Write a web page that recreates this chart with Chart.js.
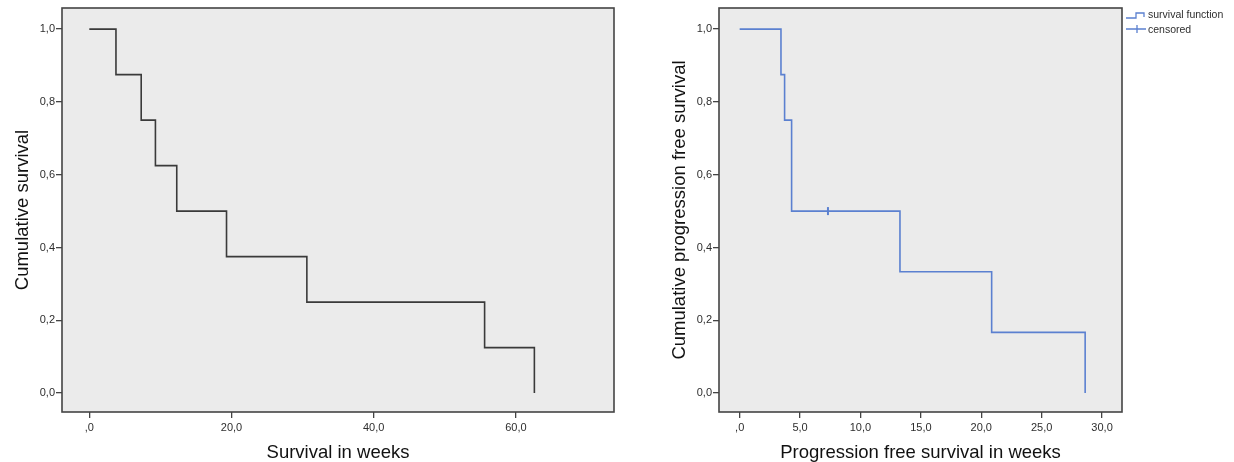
<!DOCTYPE html>
<html>
<head>
<meta charset="utf-8">
<script src="https://cdn.jsdelivr.net/npm/chart.js@4/dist/chart.umd.min.js"></script>
<style>
  body { margin: 0; background: #fff; }
  #wrap { position: relative; width: 1234px; height: 462px; }
  canvas { position: absolute; top: 0; }
  #os { left: 0; }
  #pfs { left: 640px; }
</style>
</head>
<body>
<div id="wrap">
  <canvas id="os" width="640" height="462"></canvas>
  <canvas id="pfs" width="594" height="462"></canvas>
</div>
<script>
// overall survival (Kaplan-Meier), weeks
const osWeeks    = [0, 3.75, 7.3, 9.3, 12.3, 19.3, 30.6, 55.6, 62.6];
const osSurvival = [1, 0.875, 0.75, 0.625, 0.5, 0.375, 0.25, 0.125, 0];

// progression free survival, weeks
const pfsWeeks    = [0, 3.42, 3.72, 4.3, 13.27, 20.86, 28.6];
const pfsSurvival = [1, 0.875, 0.75, 0.5, 0.3333, 0.1667, 0];
const censoredWeeks    = [7.31];
const censoredSurvival = [0.5];

const yTicks = [0, 0.2, 0.4, 0.6, 0.8, 1.0];
const osXTicks = [0, 20, 40, 60];
const pfsXTicks = [0, 5, 10, 15, 20, 25, 30];

const FONT = "'Liberation Sans', Arial, sans-serif";
const INK = '#2e2e2e';
const BLUE = '#5b80d0';

function toPoints(xs, ys) {
    return xs.map((x, i) => ({ x: x, y: ys[i] }));
}

function fmt(v) {
    return v.toFixed(1).replace('.', ',');
}

// SPSS style plot frame: grey fill plus dark box
const framePlugin = {
    id: 'frame',
    beforeDraw(chart) {
        const a = chart.chartArea;
        const ctx = chart.ctx;
        ctx.save();
        ctx.fillStyle = '#ebebeb';
        ctx.fillRect(a.left, a.top, a.right - a.left, a.bottom - a.top);
        ctx.restore();
    },
    afterDraw(chart) {
        const a = chart.chartArea;
        const ctx = chart.ctx;
        ctx.save();
        ctx.strokeStyle = '#444';
        ctx.lineWidth = 1.6;
        ctx.strokeRect(a.left, a.top, a.right - a.left, a.bottom - a.top);
        ctx.restore();
    }
};

const legendPlugin = {
    id: 'kmLegend',
    afterDraw(chart) {
        const ctx = chart.ctx;
        const x0 = chart.chartArea.right + 4;
        ctx.save();
        ctx.strokeStyle = BLUE;
        ctx.lineWidth = 1.3;
        ctx.beginPath();
        ctx.moveTo(x0, 18);
        ctx.lineTo(x0 + 10, 18);
        ctx.lineTo(x0 + 10, 13);
        ctx.lineTo(x0 + 18, 13);
        ctx.lineTo(x0 + 18, 17);
        ctx.stroke();
        ctx.beginPath();
        ctx.moveTo(x0, 29);
        ctx.lineTo(x0 + 20, 29);
        ctx.moveTo(x0 + 11, 25);
        ctx.lineTo(x0 + 11, 33);
        ctx.stroke();
        ctx.fillStyle = INK;
        ctx.font = '10.5px ' + FONT;
        ctx.textBaseline = 'middle';
        ctx.fillText('survival function', x0 + 22, 15.5);
        ctx.fillText('censored', x0 + 22, 30.5);
        ctx.restore();
    }
};

function makeScales(xTicks, xMin, xMax, xTitle, yWidth, yTitle, yTitlePad, xZeroLabel) {
    const gridCfg = { display: true, drawOnChartArea: false, tickLength: 6, color: '#444', lineWidth: 1.3 };
    return {
        x: {
            type: 'linear',
            min: xMin,
            max: xMax,
            border: { display: false },
            grid: gridCfg,
            afterBuildTicks: (s) => { s.ticks = xTicks.map(v => ({ value: v })); },
            afterFit: (s) => { s.height = 50; },
            ticks: {
                color: INK,
                font: { family: FONT, size: 11 },
                padding: 3,
                maxRotation: 0,
                callback: (v) => (v === 0 ? xZeroLabel : fmt(v))
            },
            title: {
                display: true,
                text: xTitle,
                color: '#111',
                font: { family: FONT, size: 18.5, lineHeight: 1.0 },
                padding: { top: 0, bottom: 0 }
            }
        },
        y: {
            type: 'linear',
            min: -0.052,
            max: 1.058,
            border: { display: false },
            grid: gridCfg,
            afterBuildTicks: (s) => { s.ticks = yTicks.map(v => ({ value: v })); },
            afterFit: (s) => { s.width = yWidth; },
            ticks: {
                color: INK,
                font: { family: FONT, size: 11 },
                padding: 1,
                callback: (v) => fmt(v)
            },
            title: {
                display: true,
                text: yTitle,
                color: '#111',
                font: { family: FONT, size: 18.5, lineHeight: 1.1 },
                padding: { top: yTitlePad, bottom: 0 }
            }
        }
    };
}

const baseOptions = {
    responsive: false,
    animation: false,
    devicePixelRatio: 1,
    plugins: { legend: { display: false }, tooltip: { enabled: false } }
};

new Chart(document.getElementById('os'), {
    type: 'line',
    data: {
        datasets: [{
            label: 'survival function',
            data: toPoints(osWeeks, osSurvival),
            stepped: 'before',
            borderColor: '#3a3a3a',
            borderWidth: 1.6,
            pointRadius: 0,
            fill: false
        }]
    },
    options: Object.assign({}, baseOptions, {
        layout: { padding: { left: 0, top: 8, right: 26, bottom: 0 } },
        scales: makeScales(osXTicks, -3.84, 73.8, 'Survival in weeks', 62, 'Cumulative survival', 13, ',0')
    }),
    plugins: [framePlugin]
});

new Chart(document.getElementById('pfs'), {
    type: 'line',
    data: {
        datasets: [{
            label: 'survival function',
            data: toPoints(pfsWeeks, pfsSurvival),
            stepped: 'before',
            borderColor: BLUE,
            borderWidth: 1.6,
            pointRadius: 0,
            fill: false
        }, {
            type: 'scatter',
            label: 'censored',
            data: toPoints(censoredWeeks, censoredSurvival),
            pointStyle: 'line',
            rotation: 90,
            radius: 4,
            borderColor: BLUE,
            borderWidth: 2,
            showLine: false
        }]
    },
    options: Object.assign({}, baseOptions, {
        layout: { padding: { left: 0, top: 8, right: 112, bottom: 0 } },
        scales: makeScales(pfsXTicks, -1.71, 31.65, 'Progression free survival in weeks', 79, 'Cumulative progression free survival', 30, ',0')
    }),
    plugins: [framePlugin, legendPlugin]
});
</script>
</body>
</html>
